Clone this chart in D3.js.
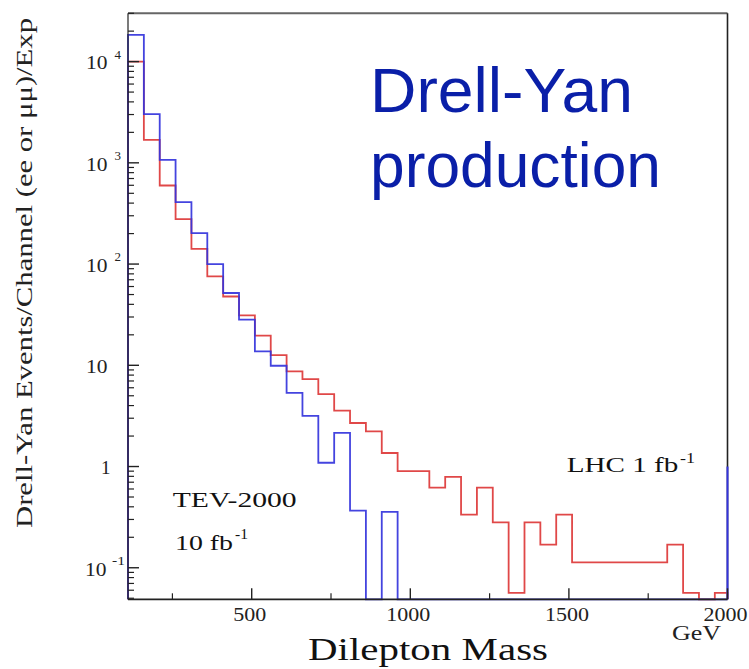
<!DOCTYPE html>
<html>
<head>
<meta charset="utf-8">
<script src="https://cdn.jsdelivr.net/npm/d3@7"></script>
<style>
  html, body { margin: 0; padding: 0; background: #fff; }
  svg { display: block; }
</style>
</head>
<body>
<svg id="chart" width="749" height="669"></svg>
<script>
// ---- data ----
// lower edges of the 50 GeV mass bins (GeV)
const binLowEdges = [110,160,210,260,310,360,410,460,510,560,610,660,710,760,810,860,910,960,
  1010,1060,1110,1160,1210,1260,1310,1360,1410,1460,1510,1560,1610,1660,1710,1760,1810,1860,1910,1960];
const binWidth = 50;
// TEV-2000, 10 fb^-1 (blue)
const tevCounts = [18400,3030,1072,409,202,100,51.8,28.2,13.7,9.9,5.33,3.16,1.09,2.15,0.367,0,0.357,
  0,0,0,0,0,0,0,0,0,0,0,0,0,0,0,0,0,0,0,0,0];
// LHC, 1 fb^-1 (red)
const lhcCounts = [10000,1687,597,278,141,75.5,47.8,31.1,19.6,12.6,8.7,7.3,5.2,3.56,2.69,2.22,1.36,
  0.90,0.90,0.62,0.79,0.335,0.62,0.281,0.0565,0.281,0.169,0.335,0.113,0.113,0.113,0.113,0.113,0.113,
  0.169,0.0565,0,0.0565];
// blue marker at the right edge of the plot (mass, count)
const tevEdgeMarker = [2000, 1];
const xMajorTicks = [500, 1000, 1500, 2000];
const xMinorTicks = [250, 750, 1250, 1750];
const yMajorTicks = [10000, 1000, 100, 10, 1, 0.1];
const yTickLabels = [["10","4"],["10","3"],["10","2"],["10",""],["1",""],["10","-1"]];

// ---- layout ----
const svg = d3.select("#chart");
const L = 128, R = 727.5, T = 13.3, B = 599.3;
const x = d3.scaleLinear().domain([110, 2000]).range([L, R]);
const y = d3.scaleLog().domain([0.0488, 30000]).range([B, T]);
const yv = v => v > 0 ? Math.min(B, y(v)) : B;
const serif = "'Liberation Serif','Times New Roman',serif";

// histogram path builder
function histPath(counts) {
  let p = [[x(binLowEdges[0]), B]];
  counts.forEach((c, i) => {
    const x0 = x(Math.max(binLowEdges[i], 110));
    const x1 = x(Math.min(binLowEdges[i] + binWidth, 2000));
    p.push([x0, yv(c)]);
    p.push([x1, yv(c)]);
  });
  p.push([x(Math.min(binLowEdges[binLowEdges.length-1] + binWidth, 2000)), B]);
  return d3.line()(p);
}

// frame: top (grey) and right (black)
svg.append("line").attr("x1", L).attr("x2", R).attr("y1", T).attr("y2", T)
  .attr("stroke", "#666").attr("stroke-width", 2);
svg.append("line").attr("x1", R).attr("x2", R).attr("y1", T).attr("y2", B)
  .attr("stroke", "#222").attr("stroke-width", 1.6);

// histograms
svg.append("path").attr("d", histPath(lhcCounts)).attr("fill", "none")
  .attr("stroke", "#e04848").attr("stroke-width", 1.8);
svg.append("path").attr("d", histPath(tevCounts)).attr("fill", "none")
  .attr("stroke", "#3434dc").attr("stroke-width", 1.8).attr("stroke-opacity", 0.92);
svg.append("line")
  .attr("x1", x(tevEdgeMarker[0])).attr("x2", x(tevEdgeMarker[0]))
  .attr("y1", y(tevEdgeMarker[1])).attr("y2", B)
  .attr("stroke", "#3434dc").attr("stroke-width", 2);

// axes lines
svg.append("line").attr("x1", L).attr("x2", R).attr("y1", B).attr("y2", B)
  .attr("stroke", "#222").attr("stroke-width", 1.8);
svg.append("line").attr("x1", L).attr("x2", L).attr("y1", T).attr("y2", B)
  .attr("stroke", "#222").attr("stroke-width", 1.2);

// x ticks
xMajorTicks.forEach(t => {
  svg.append("line").attr("x1", x(t)).attr("x2", x(t)).attr("y1", B).attr("y2", B - 11)
    .attr("stroke", "#222").attr("stroke-width", 1.4);
  svg.append("text").attr("x", x(t) - 2).attr("y", 621).attr("text-anchor", "middle")
    .attr("font-family", serif).attr("font-size", 19).attr("fill", "#222")
    .attr("textLength", String(t).length * 11).attr("lengthAdjust", "spacingAndGlyphs")
    .text(t);
});
xMinorTicks.forEach(t => {
  svg.append("line").attr("x1", x(t)).attr("x2", x(t)).attr("y1", B).attr("y2", B - 6)
    .attr("stroke", "#222").attr("stroke-width", 1.2);
});

// y ticks (major + minor)
const yMinor = [];
for (let e = -2; e <= 4; e++) for (let m = 2; m <= 9; m++) {
  const v = m * Math.pow(10, e);
  if (v >= 0.0488 && v <= 30000) yMinor.push(v);
}
yMinor.forEach(v => {
  svg.append("line").attr("x1", L).attr("x2", L + 6).attr("y1", y(v)).attr("y2", y(v))
    .attr("stroke", "#222").attr("stroke-width", 1.2);
});
yMajorTicks.forEach((v, i) => {
  svg.append("line").attr("x1", L).attr("x2", L + 11).attr("y1", y(v)).attr("y2", y(v))
    .attr("stroke", "#222").attr("stroke-width", 1.4);
  const [base, exp] = yTickLabels[i];
  const ty = y(v);
  if (base === "1") {
    svg.append("text").attr("x", 101).attr("y", ty + 7.8)
      .attr("font-family", serif).attr("font-size", 18).attr("fill", "#222")
      .attr("textLength", 9.5).attr("lengthAdjust", "spacingAndGlyphs").text(base);
  } else {
    svg.append("text").attr("x", exp === "-1" ? 85 : 86).attr("y", ty + 7.8)
      .attr("font-family", serif).attr("font-size", 18).attr("fill", "#222")
      .attr("textLength", 21.5).attr("lengthAdjust", "spacingAndGlyphs").text(base);
    if (exp) {
      svg.append("text").attr("x", exp === "-1" ? 112 : 114.5).attr("y", ty - 3)
        .attr("font-family", serif).attr("font-size", 13).attr("fill", "#222")
        .attr("textLength", exp.length * 6.5).attr("lengthAdjust", "spacingAndGlyphs").text(exp);
    }
  }
});

// axis titles
svg.append("text").attr("x", 428).attr("y", 660).attr("text-anchor", "middle")
  .attr("font-family", serif).attr("font-size", 32).attr("fill", "#111")
  .attr("textLength", 240).attr("lengthAdjust", "spacingAndGlyphs").text("Dilepton Mass");
svg.append("text").attr("x", 672).attr("y", 640)
  .attr("font-family", serif).attr("font-size", 21).attr("fill", "#222")
  .attr("textLength", 49).attr("lengthAdjust", "spacingAndGlyphs").text("GeV");
svg.append("text")
  .attr("transform", "translate(32,273) rotate(-90)")
  .attr("text-anchor", "middle")
  .attr("font-family", serif).attr("font-size", 24).attr("fill", "#222")
  .attr("textLength", 510).attr("lengthAdjust", "spacingAndGlyphs")
  .text("Drell-Yan Events/Channel (ee or μμ)/Exp");

// annotations
svg.append("text").attr("x", 172.7).attr("y", 506.7)
  .attr("font-family", serif).attr("font-size", 21).attr("fill", "#111")
  .attr("textLength", 124).attr("lengthAdjust", "spacingAndGlyphs").text("TEV-2000");
svg.append("text").attr("x", 175).attr("y", 550)
  .attr("font-family", serif).attr("font-size", 21).attr("fill", "#111")
  .attr("textLength", 58).attr("lengthAdjust", "spacingAndGlyphs").text("10 fb");
svg.append("text").attr("x", 235).attr("y", 539)
  .attr("font-family", serif).attr("font-size", 14).attr("fill", "#111")
  .attr("textLength", 13).attr("lengthAdjust", "spacingAndGlyphs").text("-1");
svg.append("text").attr("x", 566.7).attr("y", 471.7)
  .attr("font-family", serif).attr("font-size", 22).attr("fill", "#111")
  .attr("textLength", 111.6).attr("lengthAdjust", "spacingAndGlyphs").text("LHC 1 fb");
svg.append("text").attr("x", 680).attr("y", 463)
  .attr("font-family", serif).attr("font-size", 14).attr("fill", "#111")
  .attr("textLength", 15).attr("lengthAdjust", "spacingAndGlyphs").text("-1");

// big title
const sans = "'Liberation Sans', Arial, sans-serif";
svg.append("text").attr("x", 370).attr("y", 111.7)
  .attr("font-family", sans).attr("font-size", 63).attr("fill", "#0a1fa8")
  .attr("textLength", 263).attr("lengthAdjust", "spacingAndGlyphs").text("Drell-Yan");
svg.append("text").attr("x", 370).attr("y", 187.3)
  .attr("font-family", sans).attr("font-size", 63).attr("fill", "#0a1fa8")
  .attr("textLength", 291).attr("lengthAdjust", "spacingAndGlyphs").text("production");
</script>
</body>
</html>
